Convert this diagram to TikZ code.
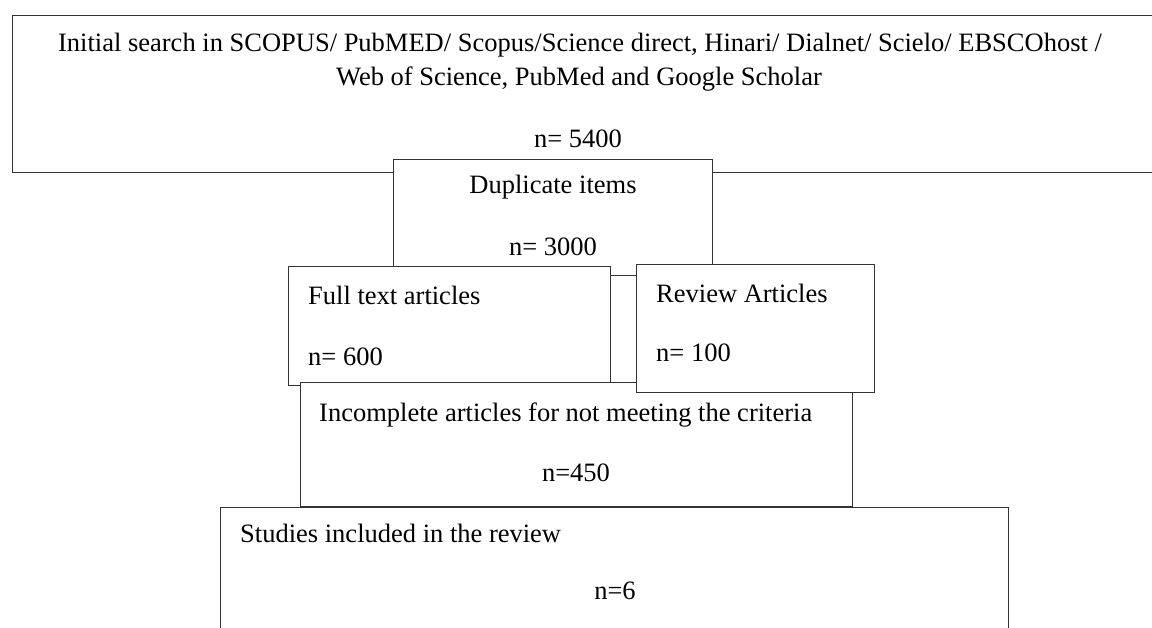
\documentclass[tikz,border=0pt]{standalone}
\usepackage{fontspec}
\setmainfont{Liberation Serif}
\begin{document}
\begin{tikzpicture}[x=1pt,y=-1pt,
  box/.style={draw=black!80,line width=1.3pt,fill=white,rectangle,inner sep=0pt,anchor=north west},
  txt/.style={inner sep=0pt,font=\fontsize{26.5}{30}\selectfont,text=black}]
\useasboundingbox (0,0) rectangle (1152,627);
\clip (0,0) rectangle (1152,627);
% top box
\node[box,minimum width=1160pt,minimum height=157pt] (top) at (12,15) {};
\node[txt,anchor=base] (t1) at (580,51) {Initial search in SCOPUS/ PubMED/ Scopus/Science direct, Hinari/ Dialnet/ Scielo/ EBSCOhost /};
\node[txt,anchor=base] (t2) at (579,85) {Web of Science, PubMed and Google Scholar};
\node[txt,anchor=base] (t3) at (578,147) {n= 5400};
% duplicate
\node[box,minimum width=319pt,minimum height=116pt] (dup) at (393,159) {};
\node[txt,anchor=base] (d1) at (553,193) {Duplicate items};
\node[txt,anchor=base] (d2) at (553,255) {n= 3000};
% full text
\node[box,minimum width=322pt,minimum height=119pt] (full) at (288,266) {};
\node[txt,anchor=base west] (f1) at (308,304) {Full text articles};
\node[txt,anchor=base west] (f2) at (308,365) {n= 600};
% incomplete
\node[box,minimum width=552pt,minimum height=124pt] (inc) at (300,382) {};
\node[txt,anchor=base west] (i1) at (319,421) {Incomplete articles for not meeting the criteria};
\node[txt,anchor=base] (i2) at (576,481) {n=450};
% review
\node[box,minimum width=238pt,minimum height=128pt] (rev) at (636,264) {};
\node[txt,anchor=base west] (r1) at (656,302) {Review Articles};
\node[txt,anchor=base west] (r2) at (656,361) {n= 100};
% studies
\node[box,minimum width=788pt,minimum height=140pt] (stu) at (220,507) {};
\node[txt,anchor=base west] (s1) at (240,542) {Studies included in the review};
\node[txt,anchor=base] (s2) at (615,599) {n=6};
\end{tikzpicture}
\end{document}
